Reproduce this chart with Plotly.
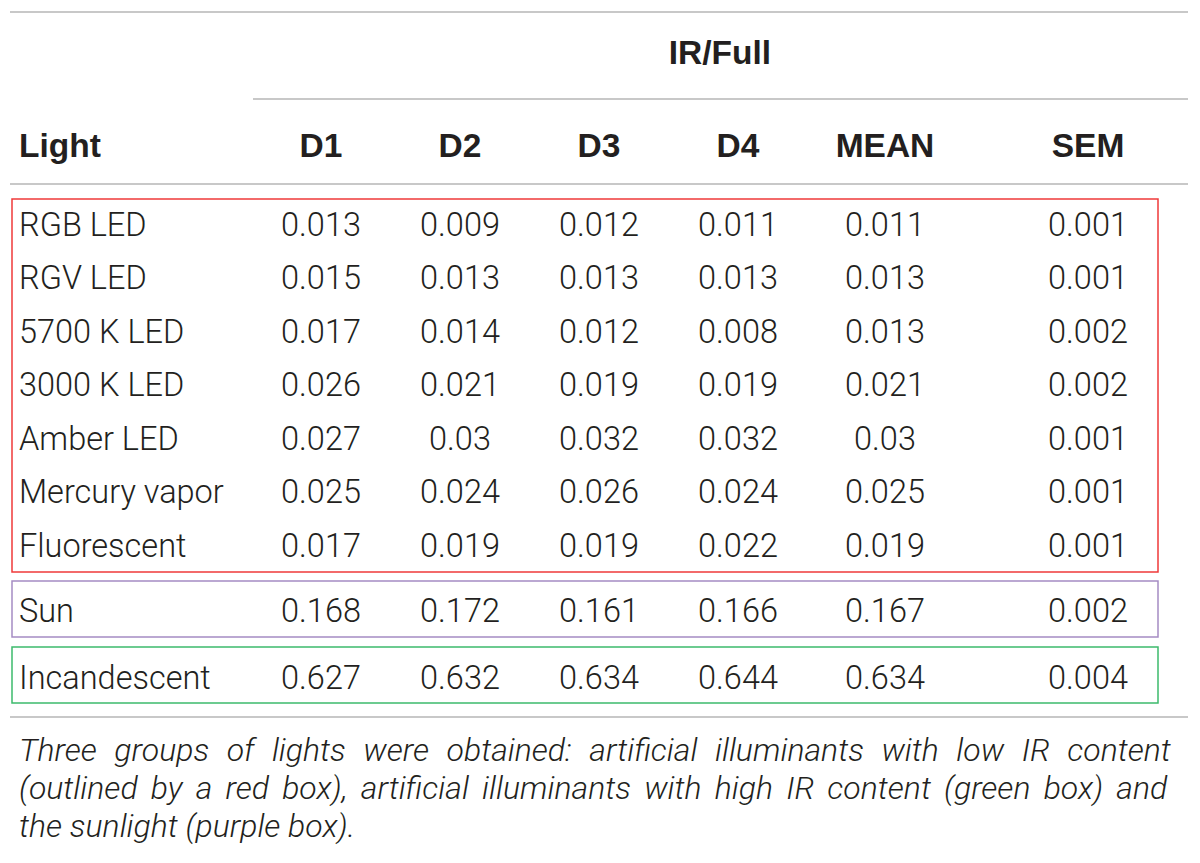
import plotly.graph_objects as go

# table content
lights = ["RGB LED", "RGV LED", "5700 K LED", "3000 K LED", "Amber LED",
          "Mercury vapor", "Fluorescent", "Sun", "Incandescent"]
columns = ["D1", "D2", "D3", "D4", "MEAN", "SEM"]
d1 = [0.013, 0.015, 0.017, 0.026, 0.027, 0.025, 0.017, 0.168, 0.627]
d2 = [0.009, 0.013, 0.014, 0.021, 0.03, 0.024, 0.019, 0.172, 0.632]
d3 = [0.012, 0.013, 0.012, 0.019, 0.032, 0.026, 0.019, 0.161, 0.634]
d4 = [0.011, 0.013, 0.008, 0.019, 0.032, 0.024, 0.022, 0.166, 0.644]
mean = [0.011, 0.013, 0.013, 0.021, 0.03, 0.025, 0.019, 0.167, 0.634]
sem = [0.001, 0.001, 0.002, 0.002, 0.001, 0.001, 0.001, 0.002, 0.004]
group_title = "IR/Full"
caption = [
    "Three groups of lights were obtained: artificial illuminants with low IR content",
    "(outlined by a red box), artificial illuminants with high IR content (green box) and",
    "the sunlight (purple box).",
]

# layout, in page pixels (page body has an 8px margin)
col_x = [321, 460, 599, 738, 885, 1088]
row_y = [228, 281, 335, 388, 442, 495, 549, 614, 681]
# word gaps that stretch the caption lines to the full width (justified look)
caption_gaps = [" \u2009\u200a", " \u2006", " "]
ink = "#231f20"
rule = "#c8c8c8"
light_family = "Roboto Light, Roboto, Liberation Sans"
body_font = dict(family=light_family, size=32.5, color=ink, weight=300)
head_font = dict(family="Liberation Sans", size=33.5, color=ink, weight="bold")
cap_font = dict(family=light_family, size=32, color=ink, weight=300, style="italic")

fig = go.Figure()

# first column, left aligned
fig.add_trace(go.Scatter(
    x=[19] * len(lights), y=row_y, text=lights, mode="text",
    textposition="middle right", textfont=body_font, hoverinfo="skip"))

# numeric columns
for cx, vals in zip(col_x, [d1, d2, d3, d4, mean, sem]):
    fig.add_trace(go.Scatter(
        x=[cx] * len(vals), y=row_y, text=[str(v) for v in vals], mode="text",
        textposition="middle center", textfont=body_font, hoverinfo="skip"))

# header
fig.add_trace(go.Scatter(
    x=[19], y=[149], text=["Light"], mode="text",
    textposition="middle right", textfont=head_font, hoverinfo="skip"))
fig.add_trace(go.Scatter(
    x=col_x + [720], y=[149] * len(columns) + [56], text=columns + [group_title],
    mode="text", textposition="middle center", textfont=head_font, hoverinfo="skip"))

# horizontal rules
for x0, x1, y in [(10, 1188, 12), (253, 1188, 99), (10, 1188, 184), (10, 1188, 717)]:
    fig.add_shape(type="line", x0=x0, x1=x1, y0=y, y1=y, xref="x", yref="y",
                  line=dict(color=rule, width=2))

# group boxes
for y0, y1, col in [(199, 572, "#ef3a3a"), (581, 637, "#a58cc4"), (647, 703, "#3dbb6c")]:
    fig.add_shape(type="rect", x0=12, x1=1158, y0=y0, y1=y1, xref="x", yref="y",
                  line=dict(color=col, width=1.5), fillcolor="rgba(0,0,0,0)")

# caption
for i, line in enumerate(caption):
    fig.add_annotation(x=17, y=750 + 38 * i, xref="x", yref="y",
                       text=caption_gaps[i].join(line.split(" ")),
                       showarrow=False, xanchor="left", yanchor="middle",
                       font=cap_font)

fig.update_xaxes(range=[8, 1200], visible=False, fixedrange=True)
fig.update_yaxes(range=[863, 8], visible=False, fixedrange=True)
fig.update_layout(width=1192, height=855, margin=dict(l=0, r=0, t=0, b=0),
                  plot_bgcolor="white", paper_bgcolor="white", showlegend=False)

fig.write_html("out.html")
